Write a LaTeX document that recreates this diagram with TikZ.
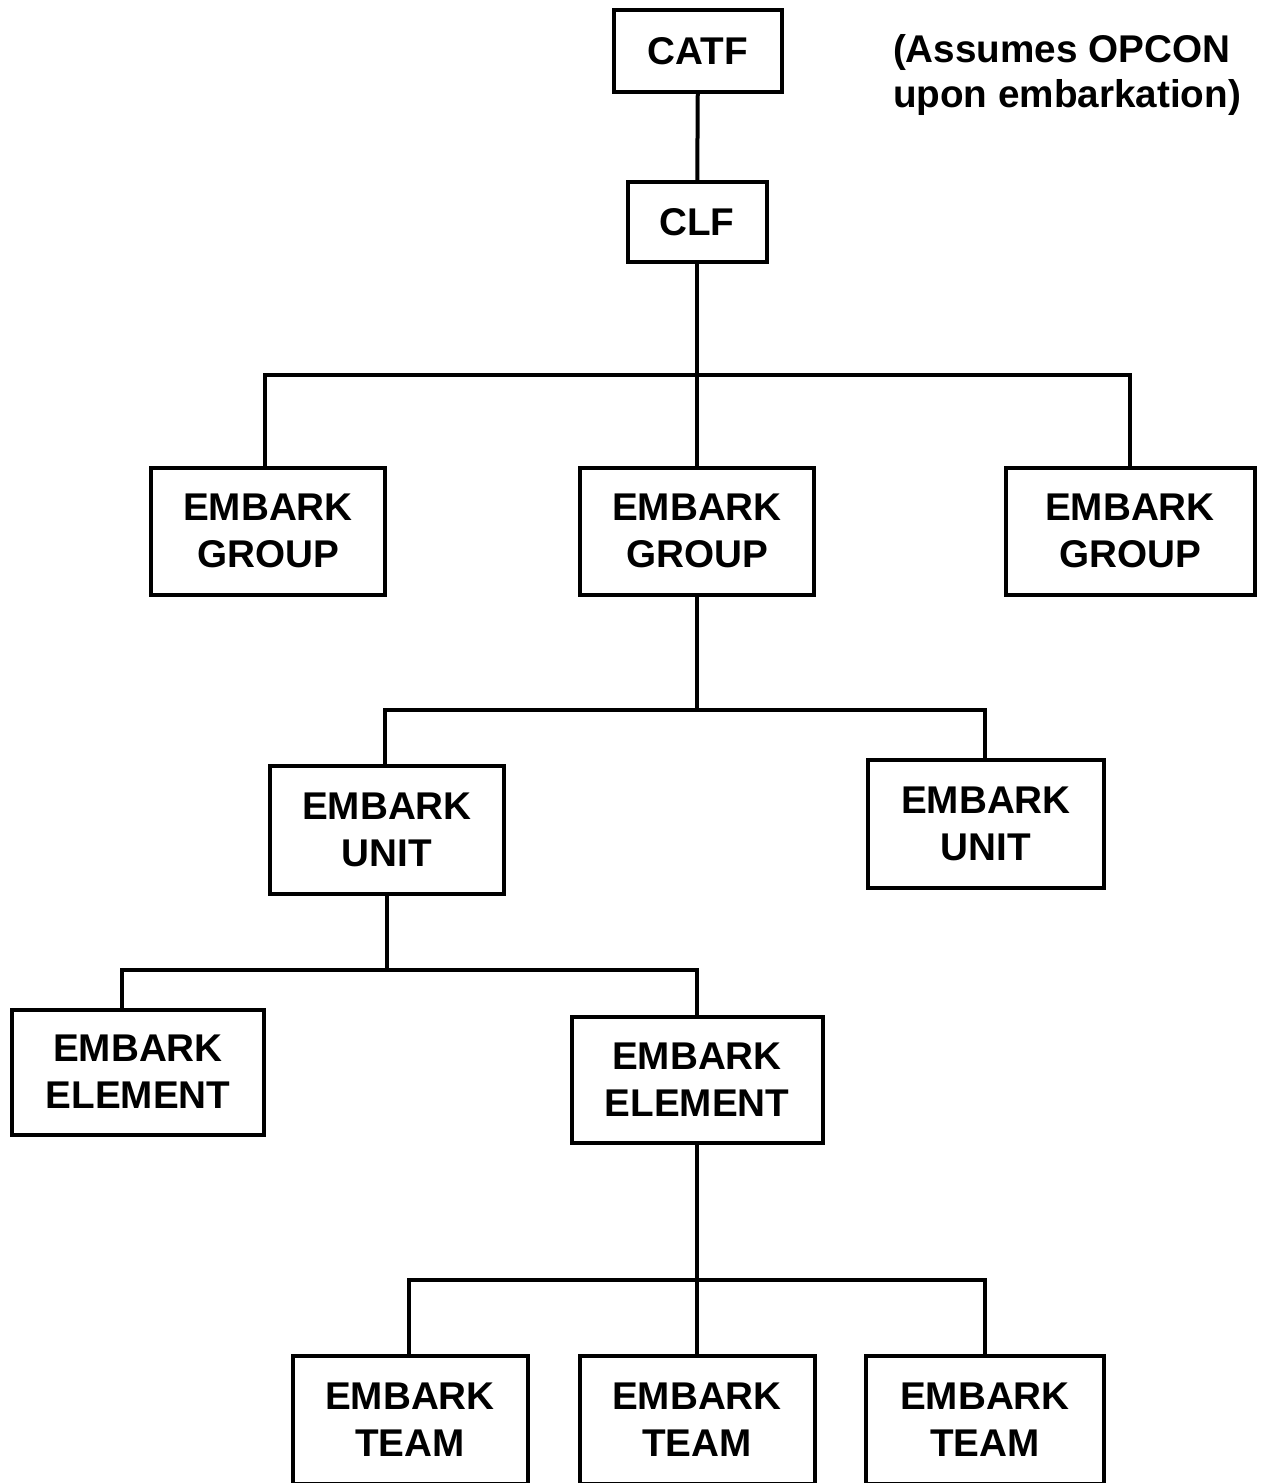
\documentclass[tikz,border=0pt]{standalone}
\usepackage{fontspec}
\setmainfont{Liberation Sans}
\begin{document}
\begin{tikzpicture}[x=0.2mm,y=-0.2mm,
  box/.style={draw,line width=0.8mm,align=center,inner sep=0pt,
    font=\bfseries\fontsize{22}{26.7}\selectfont},
  spoj/.style={line width=0.8mm}]
  \useasboundingbox (0,0) rectangle (1265,1483);
  % vrchol a poznamka
  \node[box,minimum width=33.6mm,minimum height=16.4mm] (catf) at (698,51) {CATF};
  \node[align=left,font=\bfseries\fontsize{22}{26}\selectfont] (pozn) at (1067,75)
        {(Assumes OPCON\\upon embarkation)};
  \node[box,minimum width=27.8mm,minimum height=15.8mm] (clf) at (697,222) {CLF};
  % skupiny
  \node[box,minimum width=46.8mm,minimum height=25.4mm] (grpL) at (268,531) {EMBARK\\GROUP};
  \node[box,minimum width=46.8mm,minimum height=25.4mm] (grpM) at (697,531) {EMBARK\\GROUP};
  \node[box,minimum width=49.8mm,minimum height=25.4mm] (grpR) at (1130,531) {EMBARK\\GROUP};
  % jednotky
  \node[box,minimum width=46.8mm,minimum height=25.6mm] (unitL) at (387,830) {EMBARK\\UNIT};
  \node[box,minimum width=47.2mm,minimum height=25.6mm] (unitR) at (986,824) {EMBARK\\UNIT};
  % elementy
  \node[box,minimum width=50.2mm,minimum height=25.0mm] (elemL) at (138,1072) {EMBARK\\ELEMENT};
  \node[box,minimum width=50.2mm,minimum height=25.2mm] (elemM) at (697,1080) {EMBARK\\ELEMENT};
  % tymy
  \node[box,minimum width=47.0mm,minimum height=25.6mm] (teamL) at (410,1420) {EMBARK\\TEAM};
  \node[box,minimum width=47.0mm,minimum height=25.6mm] (teamM) at (697,1420) {EMBARK\\TEAM};
  \node[box,minimum width=47.6mm,minimum height=25.6mm] (teamR) at (985,1420) {EMBARK\\TEAM};
  % odbocky
  \coordinate (b1) at (697,375);
  \coordinate (b2) at (697,710);
  \coordinate (b3) at (387,970);
  \coordinate (b4) at (697,1280);
  % spoje
  \draw[spoj] (catf) -- (clf);
  \draw[spoj] (clf) -- (grpM);
  \draw[spoj] ([xshift=-0.6mm]grpL.north) |- (b1) -| (grpR.north);
  \draw[spoj] (grpM) -- (b2);
  \draw[spoj] ([xshift=-0.4mm]unitL.north) |- (b2) -| ([xshift=-0.2mm]unitR.north);
  \draw[spoj] (unitL) -- (b3);
  \draw[spoj] ([xshift=-3.2mm]elemL.north) |- (b3) -| (elemM.north);
  \draw[spoj] (elemM) -- (b4);
  \draw[spoj] ([xshift=-0.2mm]teamL.north) |- (b4) -| (teamR.north);
  \draw[spoj] (b4) -- (teamM);
\end{tikzpicture}
\end{document}
